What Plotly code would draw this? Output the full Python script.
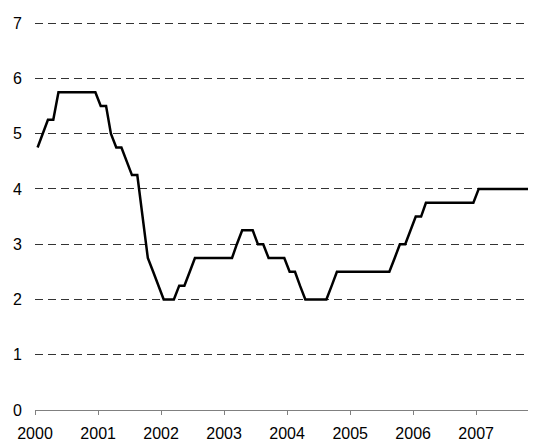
import plotly.graph_objects as go

# Monthly data, Jan 2000 - Dec 2007 (percent)
months = [f"{y}-{m:02d}-16" for y in range(2000, 2008) for m in range(1, 13)]
rate = [
    # 2000
    4.75, 5.0, 5.25, 5.25, 5.75, 5.75, 5.75, 5.75, 5.75, 5.75, 5.75, 5.75,
    # 2001
    5.5, 5.5, 5.0, 4.75, 4.75, 4.5, 4.25, 4.25, 3.5, 2.75, 2.5, 2.25,
    # 2002
    2.0, 2.0, 2.0, 2.25, 2.25, 2.5, 2.75, 2.75, 2.75, 2.75, 2.75, 2.75,
    # 2003
    2.75, 2.75, 3.0, 3.25, 3.25, 3.25, 3.0, 3.0, 2.75, 2.75, 2.75, 2.75,
    # 2004
    2.5, 2.5, 2.25, 2.0, 2.0, 2.0, 2.0, 2.0, 2.25, 2.5, 2.5, 2.5,
    # 2005
    2.5, 2.5, 2.5, 2.5, 2.5, 2.5, 2.5, 2.5, 2.75, 3.0, 3.0, 3.25,
    # 2006
    3.5, 3.5, 3.75, 3.75, 3.75, 3.75, 3.75, 3.75, 3.75, 3.75, 3.75, 3.75,
    # 2007
    4.0, 4.0, 4.0, 4.0, 4.0, 4.0, 4.0, 4.0, 4.0, 4.0, 4.0, 4.0,
]
year_ticks = [f"{y}-01-01" for y in range(2000, 2008)]
year_labels = [str(y) for y in range(2000, 2008)]
y_ticks = [0, 1, 2, 3, 4, 5, 6, 7]

fig = go.Figure()
fig.add_trace(go.Scatter(
    x=months, y=rate, mode="lines",
    line=dict(color="black", width=2.5),
    showlegend=False, hoverinfo="skip",
))

# page body has an 8px default margin, so the figure is sized to fit the window
fig.update_layout(
    width=528, height=432,
    margin=dict(l=27, r=0, t=14, b=30),
    paper_bgcolor="white", plot_bgcolor="white",
    font=dict(family="Liberation Sans, Arial, sans-serif", size=16, color="black"),
)
fig.update_xaxes(
    type="date", automargin=False,
    range=["2000-01-01", "2007-12-14"],
    tickmode="array", tickvals=year_ticks, ticktext=year_labels,
    showgrid=False, zeroline=False,
    showline=True, linecolor="#808080", linewidth=1,
    ticks="outside", ticklen=4, tickcolor="#808080", tickwidth=1,
    ticklabelstandoff=5,
)
fig.update_yaxes(
    automargin=False,
    range=[0, 7.02],
    tickmode="array", tickvals=y_ticks,
    showgrid=True, gridcolor="#333333", gridwidth=1, griddash="8px,5px",
    zeroline=False, showline=False,
    ticks="", ticklabelstandoff=12,
)

fig.write_html("out.html")
